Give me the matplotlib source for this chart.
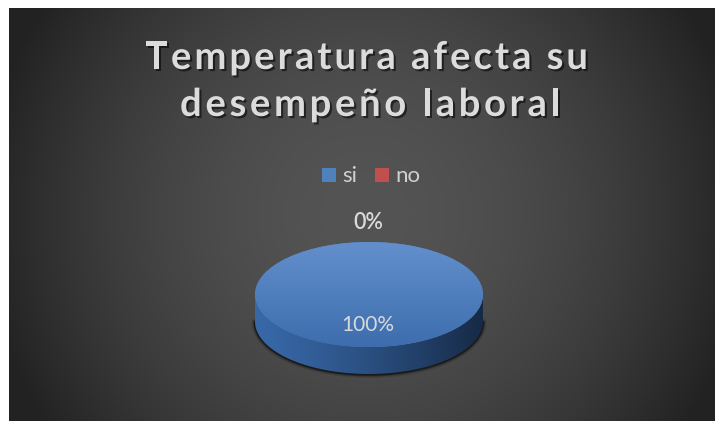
import numpy as np
import matplotlib.pyplot as plt
import matplotlib.patheffects as pe
from matplotlib.patches import Rectangle, Polygon

# datos
categorias = ["si", "no"]
valores = [100, 0]
colores = ["#4f81bd", "#c0504d"]
titulo = ["Temperatura afecta su", "desempeño laboral"]

W, H = 715, 421
fig = plt.figure(figsize=(W / 100, H / 100), dpi=100)
fig.patch.set_facecolor("white")
ax = fig.add_axes([0, 0, 1, 1])
ax.set_xlim(0, W)
ax.set_ylim(H, 0)
ax.axis("off")

# fondo con degradado radial
x0, x1, y0, y1 = 9, 715, 8, 421
xx, yy = np.meshgrid(np.linspace(x0, x1, 400), np.linspace(y0, y1, 240))
r = np.hypot(xx - 365, yy - 215)
v = np.clip(84 - 42 * (r / 350) ** 1.8, 34, 90) / 255
ax.imshow(np.dstack([v, v, v]), extent=[x0, x1, y1, y0], aspect="auto",
          interpolation="bilinear", zorder=0)
ax.set_xlim(0, W)
ax.set_ylim(H, 0)

# capa superior para textos
ax3 = fig.add_axes([0, 0, 1, 1], zorder=5)
ax3.set_xlim(0, W)
ax3.set_ylim(H, 0)
ax3.axis("off")
ax3.patch.set_alpha(0)

renderer = fig.canvas.get_renderer()
sombra = [pe.SimplePatchShadow(offset=(1.5, -1.5), shadow_rgbFace="black", alpha=0.55), pe.Normal()]


def ancho(s, **kw):
    t = ax3.text(0, 0, s, **kw)
    w = t.get_window_extent(renderer=renderer).width
    t.remove()
    return w


def texto_espaciado(s, izq, y, total, **kw):
    base = ancho("nn", **kw)
    adv = [ancho("n" + c + "n", **kw) - base for c in s]
    sp = (total - sum(adv)) / (len(s) - 1)
    x = izq
    for c, a in zip(s, adv):
        if c != " ":
            ax3.text(x + a / 2, y, c, ha="center", va="baseline", path_effects=sombra, **kw)
        x += a + sp


kw_tit = dict(fontsize=27.5, fontweight="bold", family="Lato", color="#dcdcdc")
texto_espaciado(titulo[0], 145, 69, 443, **kw_tit)
texto_espaciado(titulo[1], 180, 116, 380, **kw_tit)

# leyenda
for i, (cat, col) in enumerate(zip(categorias, colores)):
    xl = 322 + i * 53
    ax3.add_patch(Rectangle((xl, 168), 14, 14, facecolor=col, edgecolor="none"))
    ax3.text(xl + 20, 182, cat, ha="left", va="baseline", fontsize=16,
             family="Lato", color="#d0d0d0")

# pastel 3D
a, b, prof = 114, 52.5, 27
cx, cy = 369, 294.5
dd = prof / b
ax2 = fig.add_axes([(cx - a) / W, 1 - (cy + b + prof) / H, 2 * a / W, (2 * b + prof) / H], zorder=2)
ax2.axis("off")

cuñas, _ = ax2.pie(valores, colors=colores, startangle=90, counterclock=False,
                   radius=1, wedgeprops=dict(linewidth=0))

th = np.linspace(np.pi, 2 * np.pi, 200)
lado = np.column_stack([np.r_[np.cos(th), np.cos(th[::-1])],
                        np.r_[np.sin(th), np.sin(th[::-1]) - dd]])

# sombra bajo el pastel
for lw, al in [(5, 0.12), (3, 0.25), (1.6, 0.45)]:
    ax2.plot(np.cos(th), np.sin(th) - dd - 0.01, color="black", lw=lw, alpha=al,
             clip_on=False, zorder=0.5, solid_capstyle="round")

poly = Polygon(lado, closed=True, facecolor="none", edgecolor="none")
ax2.add_patch(poly)
gx = np.linspace(0, 1, 256)
c_izq = np.array([0x38, 0x68, 0xa8]) / 255
c_der = np.array([0x16, 0x2a, 0x46]) / 255
t = gx ** 1.3
grad_lado = (c_izq[None, :] * (1 - t[:, None]) + c_der[None, :] * t[:, None])[None, :, :]
im1 = ax2.imshow(grad_lado, extent=[-1, 1, -1 - dd, 0], aspect="auto", zorder=1)
im1.set_clip_path(poly)

# cara superior con degradado vertical
c_arr = np.array([0x63, 0x90, 0xcc]) / 255
c_abj = np.array([0x3d, 0x6d, 0xae]) / 255
gy = np.linspace(0, 1, 256)
grad_sup = (c_arr[None, :] * (1 - gy[:, None]) + c_abj[None, :] * gy[:, None])[:, None, :]
for c in cuñas:
    c.set_zorder(2)
im2 = ax2.imshow(grad_sup, extent=[-1, 1, -1, 1], aspect="auto", zorder=2.5)
im2.set_clip_path(cuñas[0])

ax2.set_aspect("auto")
ax2.set_xlim(-1, 1)
ax2.set_ylim(-1 - dd, 1)

# etiquetas de porcentaje
total = sum(valores)
pct = [f"{100 * val / total:.0f}%" for val in valores]
ax3.text(368, 229, pct[1], ha="center", va="baseline", fontsize=15.5, family="Lato",
         fontweight="semibold", color="#dadada")
ax3.text(368, 331, pct[0], ha="center", va="baseline", fontsize=15, family="Lato",
         color="#d9d9d9")

fig.savefig("out.png", dpi=100, facecolor="white")
